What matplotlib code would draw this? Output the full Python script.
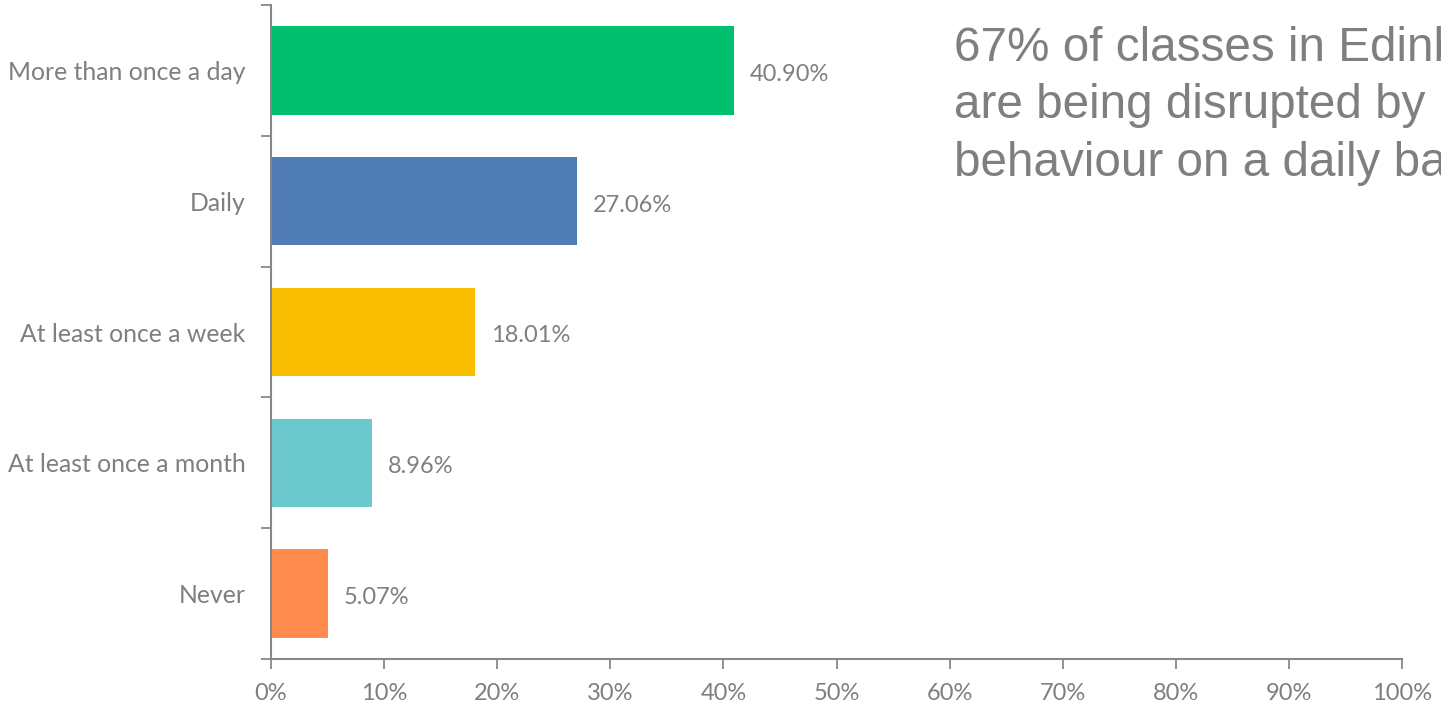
import matplotlib
matplotlib.use("Agg")
import matplotlib.pyplot as plt
from matplotlib.ticker import MultipleLocator, FixedLocator, PercentFormatter

categories = ["More than once a day", "Daily", "At least once a week",
              "At least once a month", "Never"]
values = [40.90, 27.06, 18.01, 8.96, 5.07]
colors = ["#00BF6F", "#507CB6", "#F9BE00", "#6BC8CD", "#FF8B4F"]
headline = ("67% of classes in Edinburgh\n"
            "are being disrupted by\n"
            "behaviour on a daily basis")

grey = "#7F7F7F"
axis_grey = "#888888"
label_font = ["Lato", "DejaVu Sans"]
label_size = 17

fig = plt.figure(figsize=(14.41, 7.05), dpi=100)
ax = fig.add_axes([271 / 1441, 1 - 659 / 705, (1402 - 271) / 1441, (659 - 5) / 705])

n = len(categories)
ypos = list(range(n))
ax.barh(ypos, values, height=0.675, color=colors, zorder=2)
ax.set_ylim(n - 0.5, -0.5)
ax.set_xlim(0, 100)

for y, v in zip(ypos, values):
    ax.text(v + 1.4, y + 0.03, f"{v:.2f}%", va="center", ha="left",
            fontsize=label_size, color=grey, family=label_font)

ax.set_yticks(ypos)
ax.set_yticklabels(categories)
ax.yaxis.set_minor_locator(FixedLocator([i - 0.5 for i in range(n + 1)]))
ax.tick_params(axis="y", which="major", length=0, pad=18.5,
               labelsize=17.8, labelcolor=grey)
ax.tick_params(axis="y", which="minor", length=7, width=1.3, color=axis_grey)
ax.xaxis.set_major_locator(MultipleLocator(10))
ax.xaxis.set_major_formatter(PercentFormatter(decimals=0))
ax.tick_params(axis="x", length=7, width=1.3, color=axis_grey, pad=10,
               labelsize=label_size, labelcolor=grey)
for lbl in ax.get_xticklabels() + ax.get_yticklabels():
    lbl.set_family(label_font)

for side in ("top", "right"):
    ax.spines[side].set_visible(False)
for side in ("left", "bottom"):
    ax.spines[side].set_color(axis_grey)
    ax.spines[side].set_linewidth(1.5)

fig.text(954 / 1441, 1 - 26 / 705, headline, ha="left", va="top",
         fontsize=34.3, color=grey, family=["Liberation Sans", "DejaVu Sans"],
         linespacing=1.35)

fig.savefig("out.png", dpi=100, facecolor="white")
